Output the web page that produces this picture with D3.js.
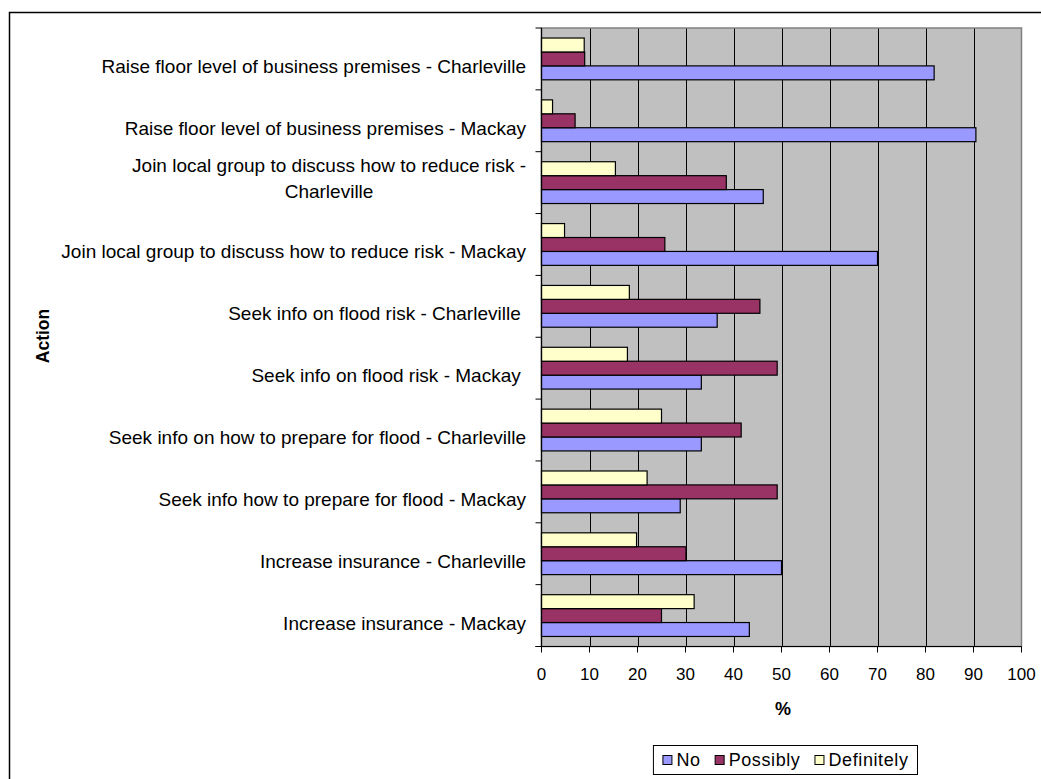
<!DOCTYPE html>
<html>
<head>
<meta charset="utf-8">
<script src="https://cdn.jsdelivr.net/npm/d3@7"></script>
<style>
  html, body { margin: 0; padding: 0; background: #fff; }
  svg { display: block; }
  text { font-family: "Liberation Sans", Arial, sans-serif; fill: #000; }
</style>
</head>
<body>
<svg id="chart" width="1041" height="779"></svg>
<script>
// Categories, top to bottom; "\n" marks a wrapped label
const categories = [
  "Raise floor level of business premises - Charleville",
  "Raise floor level of business premises - Mackay",
  "Join local group to discuss how to reduce risk -\nCharleville",
  "Join local group to discuss how to reduce risk - Mackay",
  "Seek info on flood risk - Charleville ",
  "Seek info on flood risk - Mackay ",
  "Seek info on how to prepare for flood - Charleville",
  "Seek info how to prepare for flood - Mackay",
  "Increase insurance - Charleville",
  "Increase insurance - Mackay"
];

// Percentages per response, in category order
const noValues         = [81.8, 90.5, 46.2, 70.0, 36.6, 33.3, 33.3, 28.9, 50.0, 43.3];
const possiblyValues   = [9.0, 7.0, 38.5, 25.7, 45.5, 49.1, 41.6, 49.1, 30.1, 25.0];
const definitelyValues = [8.9, 2.3, 15.4, 4.8, 18.3, 17.9, 25.0, 22.0, 19.8, 31.8];

const seriesNames = ["No", "Possibly", "Definitely"];
const xTicks = [0, 10, 20, 30, 40, 50, 60, 70, 80, 90, 100];

const seriesColors = { "No": "#9999FF", "Possibly": "#993366", "Definitely": "#FFFFCC" };
const seriesValues = { "No": noValues, "Possibly": possiblyValues, "Definitely": definitelyValues };

const svg = d3.select("#chart");

// Outer chart frame (continues past the right and bottom edges)
svg.append("rect")
  .attr("x", 9.5).attr("y", 12.5)
  .attr("width", 1100).attr("height", 900)
  .attr("fill", "#fff").attr("stroke", "#000").attr("stroke-width", 1.5);

const plot = { left: 541.5, right: 1021.5, top: 28, bottom: 646.5 };

const x = d3.scaleLinear().domain([0, 100]).range([plot.left, plot.right]);
const y = d3.scaleBand().domain(categories).range([plot.top, plot.bottom]).padding(0);
// Within each category, Definitely sits on top and No at the bottom
const ySub = d3.scaleBand()
  .domain(["Definitely", "Possibly", "No"])
  .range([0, y.bandwidth()])
  .paddingInner(0)
  .paddingOuter(0.72);

// Plot background
svg.append("rect")
  .attr("x", plot.left).attr("y", plot.top)
  .attr("width", plot.right - plot.left).attr("height", plot.bottom - plot.top)
  .attr("fill", "#C0C0C0");

// Vertical gridlines
svg.append("g")
  .selectAll("line")
  .data(xTicks.filter(d => d > 0 && d < 100))
  .join("line")
  .attr("x1", d => Math.round(x(d)) + 0.5).attr("x2", d => Math.round(x(d)) + 0.5)
  .attr("y1", plot.top).attr("y2", plot.bottom)
  .attr("stroke", "#000").attr("stroke-width", 1);

// Plot border
svg.append("rect")
  .attr("x", plot.left).attr("y", plot.top)
  .attr("width", plot.right - plot.left).attr("height", plot.bottom - plot.top)
  .attr("fill", "none").attr("stroke", "#808080").attr("stroke-width", 1.5);

// Bars
const rows = [];
categories.forEach((c, i) => {
  seriesNames.forEach(s => rows.push({ cat: c, series: s, value: seriesValues[s][i] }));
});

svg.append("g")
  .selectAll("rect")
  .data(rows)
  .join("rect")
  .attr("x", x(0))
  .attr("y", d => y(d.cat) + ySub(d.series))
  .attr("width", d => x(d.value) - x(0))
  .attr("height", ySub.bandwidth())
  .attr("fill", d => seriesColors[d.series])
  .attr("stroke", "#000").attr("stroke-width", 1.2);

// Y axis: line and ticks at category boundaries
const yAxis = svg.append("g");
yAxis.append("line")
  .attr("x1", plot.left).attr("x2", plot.left)
  .attr("y1", plot.top).attr("y2", plot.bottom)
  .attr("stroke", "#000").attr("stroke-width", 1.2);
const boundaries = categories.map(c => y(c)).concat([plot.bottom]);
yAxis.selectAll("line.tick")
  .data(boundaries)
  .join("line")
  .attr("class", "tick")
  .attr("x1", plot.left - 6).attr("x2", plot.left)
  .attr("y1", d => d).attr("y2", d => d)
  .attr("stroke", "#000").attr("stroke-width", 1);

// Category labels, right aligned; wrapped lines centred on each other
const labelRight = 526;
const lineH = 26;
categories.forEach(c => {
  const lines = c.split("\n");
  const cy = y(c) + y.bandwidth() / 2;
  if (lines.length === 1) {
    svg.append("text")
      .attr("x", labelRight).attr("y", cy + 14)
      .attr("text-anchor", "end")
      .attr("font-size", 19)
      .style("white-space", "pre")
      .text(lines[0]);
  } else {
    const g = svg.append("g");
    const ts = lines.map((ln, k) => g.append("text")
      .attr("y", cy + 15 - (lines.length - 1 - k) * lineH)
      .attr("text-anchor", "middle")
      .attr("font-size", 19)
      .text(ln));
    const w = d3.max(ts, t => t.node().getComputedTextLength());
    ts.forEach(t => t.attr("x", labelRight - w / 2));
  }
});

// X axis
const xAxis = svg.append("g");
xAxis.append("line")
  .attr("x1", plot.left - 6).attr("x2", plot.right)
  .attr("y1", plot.bottom).attr("y2", plot.bottom)
  .attr("stroke", "#000").attr("stroke-width", 1.2);
xAxis.selectAll("line.tick")
  .data(xTicks)
  .join("line")
  .attr("class", "tick")
  .attr("x1", d => x(d)).attr("x2", d => x(d))
  .attr("y1", plot.bottom).attr("y2", plot.bottom + 6)
  .attr("stroke", "#000").attr("stroke-width", 1);
xAxis.selectAll("text")
  .data(xTicks)
  .join("text")
  .attr("x", d => x(d))
  .attr("y", 680)
  .attr("text-anchor", "middle")
  .attr("font-size", 17)
  .text(d => d);

// Axis titles
svg.append("text")
  .attr("x", 783).attr("y", 715)
  .attr("text-anchor", "middle")
  .attr("font-size", 18).attr("font-weight", "bold")
  .text("%");
svg.append("text")
  .attr("transform", "translate(49,336) rotate(-90)")
  .attr("text-anchor", "middle")
  .attr("font-size", 17.5).attr("font-weight", "bold")
  .text("Action");

// Legend: items laid out left to right, box sized to fit
const legend = svg.append("g");
const legendBox = legend.append("rect")
  .attr("fill", "#fff").attr("stroke", "#000").attr("stroke-width", 1);
const items = legend.append("g");
let cursor = 0;
seriesNames.forEach(s => {
  const item = items.append("g").attr("transform", `translate(${cursor},0)`);
  item.append("rect")
    .attr("x", 0.5).attr("y", 755.5)
    .attr("width", 9).attr("height", 9)
    .attr("fill", seriesColors[s]).attr("stroke", "#000").attr("stroke-width", 1);
  const t = item.append("text")
    .attr("x", 14).attr("y", 766)
    .attr("font-size", 18)
    .style("letter-spacing", "0.6px")
    .text(s);
  cursor += 14 + t.node().getComputedTextLength() + 14;
});
const itemsWidth = cursor - 14;
const boxRight = 917.5;
const pad = 9;
const boxLeft = boxRight - itemsWidth - 2 * pad;
items.attr("transform", `translate(${boxLeft + pad},0)`);
legendBox
  .attr("x", boxLeft).attr("y", 745.5)
  .attr("width", boxRight - boxLeft).attr("height", 29);
</script>
</body>
</html>
